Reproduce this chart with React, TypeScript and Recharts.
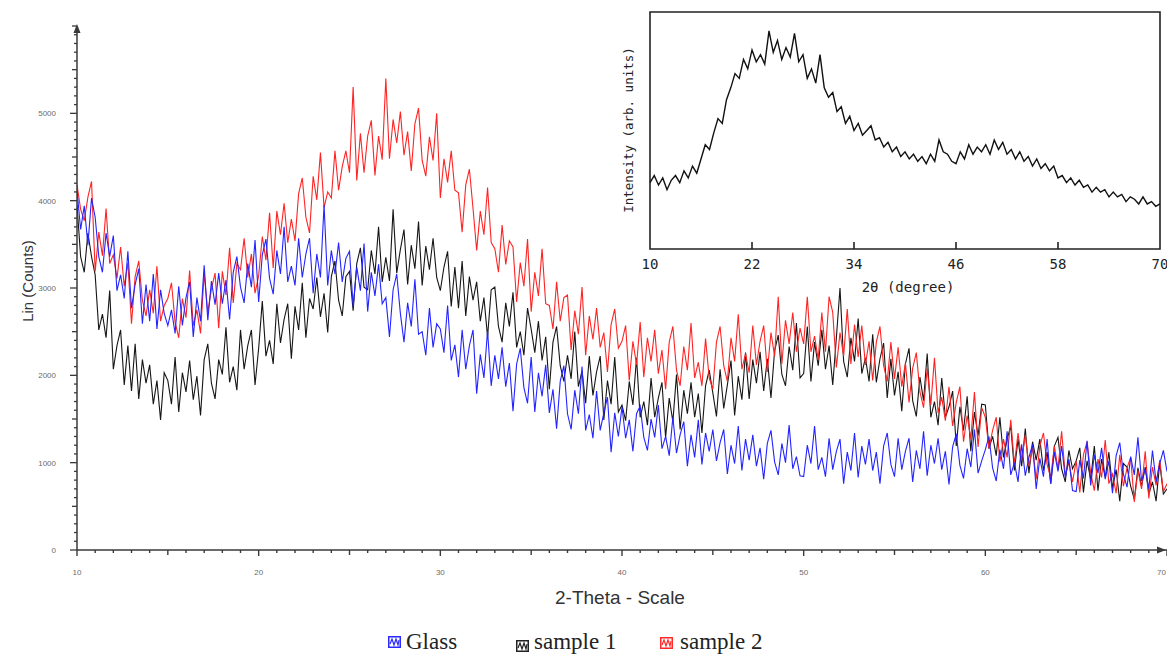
import React from "react";
import { LineChart, Line, XAxis, YAxis, ReferenceArea } from "recharts";

// ---------- main pattern: 2-theta from 10 to 70, step 0.2 ----------
const thetaStart = 10;
const thetaStep = 0.2;

const glass: number[] = [
  4120, 3670, 3940, 3490, 4030,
  3810, 3360, 3180, 3630, 3360,
  3600, 2970, 3150, 2880, 3420,
  2770, 3040, 3220, 2590, 3040,
  2620, 3160, 2530, 2980, 2710,
  2570, 2750, 2480, 3020, 2570,
  2890, 3070, 2440, 2890, 2620,
  3260, 2630, 3080, 2810, 3170,
  2820, 3090, 2640, 3180, 3360,
  3010, 2830, 3280, 3010, 3550,
  2840, 3380, 3560, 3110, 2930,
  3430, 3160, 3700, 3070, 3250,
  3030, 3570, 3120, 3390, 3570,
  2940, 3390, 3120, 3950, 3030,
  3430, 3160, 3520, 3070, 3340,
  3420, 2790, 3240, 2970, 3510,
  2730, 3180, 2910, 3270, 2820,
  2890, 2440, 2980, 3160, 2710,
  2380, 2830, 2560, 3100, 2470,
  2500, 2230, 2770, 2320, 2590,
  2530, 2260, 2800, 2170, 2350,
  1980, 2520, 2070, 2340, 2520,
  1790, 2240, 1970, 2510, 1880,
  2230, 1960, 2320, 1870, 2140,
  1590, 2130, 2310, 1860, 1680,
  2210, 1580, 2030, 1760, 2120,
  1570, 1840, 1390, 1930, 2110,
  1560, 1380, 1830, 1560, 2100,
  1370, 1550, 1280, 1820, 1370,
  1570, 1750, 1120, 1570, 1300,
  1640, 1280, 1490, 1130, 1560,
  1650, 1290, 1140, 1500, 1290,
  1660, 1160, 1300, 1080, 1520,
  1110, 1320, 1470, 960, 1320,
  1060, 1490, 980, 1340, 1130,
  1380, 1020, 1230, 1380, 870,
  1200, 990, 1420, 910, 1270,
  1030, 1320, 960, 1170, 810,
  1220, 1370, 1010, 860, 1220,
  1000, 1430, 930, 1070, 850,
  840, 1200, 990, 1420, 920,
  1060, 840, 1280, 920, 1130,
  1270, 760, 1120, 910, 1340,
  830, 1190, 980, 1270, 910,
  1120, 760, 1190, 1340, 980,
  840, 1280, 920, 1130, 1280,
  780, 1140, 930, 1360, 850,
  1200, 990, 1280, 920, 1130,
  750, 1180, 1330, 970, 820,
  1160, 950, 1380, 880, 1020,
  1150, 1300, 940, 790, 1150,
  930, 1360, 860, 1000, 780,
  1210, 850, 1060, 1210, 700,
  1050, 840, 1270, 760, 1120,
  900, 1190, 830, 1040, 680,
  670, 1030, 820, 1250, 740,
  1090, 880, 1170, 810, 1020,
  650, 1080, 1230, 870, 720,
  1070, 860, 1290, 790, 930,
  700, 1140, 780, 990, 1140,
  900,
];

const sample1: number[] = [
  3950, 3360, 3180, 3630, 3360,
  3150, 2520, 2700, 2430, 2970,
  2070, 2340, 2520, 1890, 2340,
  1820, 2360, 1730, 2180, 1910,
  2120, 1670, 1940, 1490, 2030,
  1940, 1670, 2210, 1580, 2030,
  1810, 2170, 1720, 1990, 1540,
  2180, 2360, 1910, 1730, 2180,
  2010, 2550, 1920, 2100, 1830,
  2520, 2070, 2340, 2520, 1890,
  2310, 2850, 2220, 2400, 2130,
  2820, 2370, 2640, 2820, 2190,
  2790, 2520, 3060, 2430, 2880,
  2760, 3120, 2670, 2940, 2490,
  3130, 3310, 2860, 2680, 3130,
  3190, 2740, 3280, 3460, 3010,
  2980, 3430, 3160, 3700, 3070,
  3350, 3080, 3900, 3170, 3440,
  3670, 3040, 3490, 3220, 3760,
  3030, 3480, 3210, 3570, 3120,
  2970, 3240, 3420, 2790, 3240,
  2770, 3310, 2680, 3130, 2860,
  3070, 2620, 2890, 2440, 2980,
  3010, 2560, 2380, 2830, 2560,
  2950, 2320, 2500, 2230, 2770,
  2530, 2260, 2620, 2170, 2440,
  1840, 2380, 2560, 2110, 1930,
  2230, 1960, 2500, 1870, 2050,
  1680, 2220, 1770, 2040, 2220,
  1490, 1940, 1670, 2210, 1580,
  1660, 1480, 1930, 1660, 2200,
  1520, 1700, 1430, 1970, 1520,
  1740, 1920, 1290, 1740, 1470,
  2010, 1380, 1830, 1560, 1920,
  1520, 1790, 1340, 1880, 2060,
  1800, 1530, 2070, 1620, 1890,
  2170, 1540, 1990, 1720, 2260,
  1730, 2180, 1910, 2270, 1820,
  2190, 1740, 2280, 2460, 2010,
  1880, 2330, 2060, 2600, 1970,
  2020, 2560, 1930, 2380, 2110,
  2520, 2070, 2340, 1890, 2430,
  3000, 2160, 1980, 2430, 2160,
  2650, 2020, 2200, 1930, 2470,
  1920, 2190, 2370, 1740, 2190,
  1770, 2040, 1590, 2130, 2310,
  1710, 1530, 1980, 1710, 2250,
  1520, 1700, 1430, 1970, 1520,
  1640, 1820, 1190, 1640, 1370,
  1760, 1130, 1580, 1310, 1670,
  1660, 1160, 1300, 1080, 1520,
  1060, 1270, 1420, 910, 1270,
  960, 1390, 880, 1240, 1030,
  1270, 910, 1120, 760, 1190,
  1290, 930, 780, 1140, 930,
  1020, 1170, 660, 1020, 810,
  1190, 680, 1040, 830, 1120,
  710, 920, 560, 990, 950,
  730, 580, 940, 730, 950,
  640, 780, 560, 1000, 640,
  700,
];

const sample2: number[] = [
  4180, 3900, 3770, 4040, 4220,
  3190, 3640, 3370, 3910, 3280,
  3380, 3110, 3470, 3020, 3290,
  2590, 3130, 3310, 2860, 2680,
  2980, 2710, 3250, 2620, 2800,
  2880, 3060, 2610, 2430, 2880,
  2660, 3200, 2570, 2750, 2480,
  3170, 2720, 2990, 3170, 2540,
  3190, 2920, 3460, 2830, 3280,
  3210, 3570, 3120, 3390, 2940,
  3140, 3590, 3320, 3860, 3230,
  3880, 3610, 3970, 3520, 3790,
  3540, 4080, 4260, 3810, 3630,
  4280, 4010, 4550, 3920, 4100,
  4030, 4570, 4120, 4390, 4570,
  4320, 5300, 4230, 4770, 4320,
  4740, 4920, 4290, 4740, 4470,
  5400, 4480, 4930, 4660, 5020,
  4520, 4790, 4340, 4880, 5060,
  4460, 4280, 4730, 4460, 5000,
  4030, 4480, 4210, 4570, 4120,
  4090, 3640, 4180, 4360, 3910,
  3430, 3880, 3610, 4150, 3520,
  3450, 3180, 3720, 3270, 3540,
  3470, 2840, 3290, 3020, 3560,
  2730, 3180, 2910, 3450, 2820,
  2800, 2530, 3070, 2620, 2890,
  2920, 2290, 2740, 2470, 3010,
  2230, 2680, 2410, 2770, 2320,
  2490, 2040, 2580, 2760, 2310,
  2390, 2570, 1940, 2390, 2120,
  2610, 1980, 2430, 2160, 2520,
  2020, 2290, 1840, 2380, 2560,
  2060, 1880, 2330, 2060, 2600,
  1970, 2150, 1880, 2420, 1970,
  1840, 2380, 2560, 2110, 1930,
  2430, 2160, 2700, 2070, 2250,
  2030, 2570, 2120, 2390, 2570,
  2040, 2490, 2220, 2900, 2130,
  2630, 2360, 2720, 2270, 2540,
  2360, 2900, 2270, 2450, 2180,
  2720, 2270, 2900, 2720, 2090,
  2490, 2220, 2760, 2130, 2580,
  2210, 2570, 2120, 2390, 1940,
  2380, 2560, 2110, 1930, 2380,
  1960, 2320, 1870, 2140, 1690,
  2080, 2260, 1810, 1630, 2080,
  1660, 2200, 1570, 1750, 1480,
  1870, 1420, 1690, 1870, 1240,
  1540, 1270, 1810, 1180, 1630,
  1520, 1160, 1370, 1520, 1010,
  1270, 1060, 1490, 980, 1340,
  1030, 1320, 960, 1170, 810,
  1190, 1340, 980, 830, 1190,
  930, 1360, 860, 1000, 780,
  1020, 660, 1090, 1240, 880,
  680, 1040, 830, 1260, 760,
  870, 650, 1090, 730, 940,
  1060, 550, 910, 700, 1130,
  590, 950, 740, 1030, 670,
  760,
];

const xMajorTicks = [10, 20, 30, 40, 50, 60, 70];
const yMajorTicks = [0, 1000, 2000, 3000, 4000, 5000];

// ---------- inset pattern: 2-theta from 10 to 70, step 0.5 ----------
const insetStart = 10;
const insetStep = 0.5;
const insetIntensity: number[] = [
  28, 31, 27, 30, 25, 29, 31, 28, 33, 30,
  35, 32, 38, 44, 42, 49, 55, 53, 63, 68,
  74, 72, 80, 76, 84, 79, 82, 78, 92, 83,
  88, 80, 85, 81, 91, 79, 82, 72, 76, 70,
  82, 68, 64, 66, 58, 60, 53, 56, 50, 53,
  48, 50, 52, 46, 47, 43, 45, 41, 43, 39,
  41, 38, 40, 37, 39, 36, 40, 37, 46, 41,
  40, 37, 36, 41, 38, 44, 40, 43, 41, 44,
  40, 46, 42, 45, 40, 42, 38, 41, 37, 39,
  35, 38, 34, 36, 33, 35, 30, 31, 28, 30,
  27, 29, 26, 27, 24, 26, 24, 25, 22, 24,
  22, 23, 20, 22, 21, 19, 22, 19, 20, 18,
  19,
];
const insetTicks = [10, 22, 34, 46, 58, 70];

const mainData = glass.map((g, i) => ({
  x: Math.round((thetaStart + i * thetaStep) * 10) / 10,
  glass: g,
  sample1: sample1[i],
  sample2: sample2[i],
}));

const insetData = insetIntensity.map((v, i) => ({
  x: insetStart + i * insetStep,
  v,
}));

const xTicks: number[] = [];
for (let t = 10; t <= 70; t += 1) xTicks.push(t);
const yTicks: number[] = [];
for (let t = 0; t <= 6000; t += 100) yTicks.push(t);

const AXIS = "#3a3a3a";
const TICKTXT = "#6a6a6a";

const XTick = (props: any) => {
  const { x, y, payload } = props;
  const v = payload.value;
  const major = xMajorTicks.includes(v);
  const mid = v % 5 === 0;
  const len = major ? 6 : mid ? 5 : 3;
  const last = v === 70;
  return (
    <g>
      <line x1={x} x2={x} y1={y} y2={y + len} stroke={AXIS} strokeWidth={1.4} />
      {major && (
        <text
          x={last ? x - 1 : x}
          y={y + 25}
          textAnchor={last ? "end" : "middle"}
          fontSize={8}
          fill={TICKTXT}
          fontFamily="Arial, Liberation Sans"
        >
          {v}
        </text>
      )}
    </g>
  );
};

const YTick = (props: any) => {
  const { x, y, payload } = props;
  const v = payload.value;
  const major = yMajorTicks.includes(v);
  const mid = v % 500 === 0;
  const len = major ? 7 : mid ? 5 : 3;
  return (
    <g>
      <line x1={x - len} x2={x} y1={y} y2={y} stroke={AXIS} strokeWidth={1.3} />
      {major && (
        <text x={x - 21} y={y + 3} textAnchor="end" fontSize={8} fill={TICKTXT} fontFamily="Arial, Liberation Sans">
          {v}
        </text>
      )}
    </g>
  );
};

const InsetTick = (props: any) => {
  const { x, y, payload } = props;
  const v = payload.value;
  const inner = v !== 10 && v !== 70;
  return (
    <g>
      {inner && <line x1={x} x2={x} y1={y} y2={y - 7} stroke="#222" strokeWidth={1.6} />}
      <text x={x} y={y + 20} textAnchor="middle" fontSize={14} fill="#222" fontFamily="DejaVu Sans Mono, Liberation Mono, monospace">
        {v}
      </text>
    </g>
  );
};

const LegendIcon = ({ color }: { color: string }) => (
  <svg width={13} height={12} style={{ display: "block" }}>
    <rect x={0.75} y={0.75} width={11.5} height={10.5} fill="none" stroke={color} strokeWidth={1.5} />
    <polyline points="2,8 4,3 6,9 8,3 10,9 11,4" fill="none" stroke={color} strokeWidth={1.2} />
  </svg>
);

const legendItems = [
  { name: "Glass", color: "#2a2aff", left: 388, top: 636, textLeft: 406 },
  { name: "sample 1", color: "#222", left: 516, top: 640, textLeft: 534 },
  { name: "sample 2", color: "#ff2a2a", left: 660, top: 637, textLeft: 680 },
];

export default function App() {
  return (
    <div style={{ position: "absolute", left: 0, top: 0, width: 1167, height: 654, background: "#fff", overflow: "hidden" }}>
      <div style={{ position: "absolute", left: 0, top: 0 }}>
        <LineChart width={1167} height={654} data={mainData} margin={{ top: 26, right: 0, bottom: 0, left: 0 }}>
          <XAxis
            dataKey="x"
            type="number"
            domain={[10, 70]}
            ticks={xTicks}
            interval={0}
            tick={<XTick />}
            tickLine={false}
            tickSize={0}
            tickMargin={0}
            height={104}
            axisLine={{ stroke: AXIS, strokeWidth: 1.5 }}
            allowDataOverflow
          />
          <YAxis
            type="number"
            domain={[0, 6000]}
            ticks={yTicks}
            interval={0}
            tick={<YTick />}
            tickLine={false}
            tickSize={0}
            tickMargin={0}
            width={77}
            axisLine={{ stroke: AXIS, strokeWidth: 1.5 }}
            allowDataOverflow
          />
          <Line dataKey="sample1" stroke="#161616" strokeWidth={1.1} dot={false} isAnimationActive={false} type="linear" />
          <Line dataKey="sample2" stroke="#ff2424" strokeWidth={1.1} dot={false} isAnimationActive={false} type="linear" />
          <Line dataKey="glass" stroke="#2424ff" strokeWidth={1.1} dot={false} isAnimationActive={false} type="linear" />
        </LineChart>
      </div>

      {/* axis arrows */}
      <svg width={1167} height={654} style={{ position: "absolute", left: 0, top: 0, pointerEvents: "none" }}>
        <polygon points="77,24 73.5,33 80.5,33" fill={AXIS} />
        <polygon points="1166,550 1157,546.5 1157,553.5" fill={AXIS} />
      </svg>

      {/* axis titles */}
      <div
        style={{
          position: "absolute",
          left: 27,
          top: 281,
          transform: "translate(-50%, -50%) rotate(-90deg)",
          fontFamily: "Arial, Liberation Sans, sans-serif",
          fontSize: 15,
          color: "#333",
          whiteSpace: "nowrap",
        }}
      >
        Lin (Counts)
      </div>
      <div
        style={{
          position: "absolute",
          left: 620,
          top: 598,
          transform: "translate(-50%, -50%)",
          fontFamily: "Arial, Liberation Sans, sans-serif",
          fontSize: 19,
          color: "#333",
          whiteSpace: "nowrap",
        }}
      >
        2-Theta - Scale
      </div>

      {/* legend */}
      {legendItems.map((it) => (
        <div key={it.name} style={{ position: "absolute", left: it.left, top: it.top }}>
          <LegendIcon color={it.color} />
        </div>
      ))}
      {legendItems.map((it) => (
        <div
          key={it.name + "t"}
          style={{
            position: "absolute",
            left: it.textLeft,
            top: 628,
            fontFamily: "Liberation Serif, Times New Roman, serif",
            fontSize: 23,
            lineHeight: "28px",
            color: "#222",
            whiteSpace: "nowrap",
          }}
        >
          {it.name}
        </div>
      ))}

      {/* inset */}
      <div style={{ position: "absolute", left: 600, top: 0 }}>
        <LineChart width={567} height={300} data={insetData} margin={{ top: 12, right: 7, bottom: 0, left: 50 }}>
          <XAxis
            dataKey="x"
            type="number"
            domain={[10, 70]}
            ticks={insetTicks}
            interval={0}
            tick={<InsetTick />}
            tickLine={false}
            tickSize={0}
            tickMargin={0}
            axisLine={false}
            height={51}
          />
          <YAxis type="number" domain={[0, 100]} hide />
          <ReferenceArea x1={10} x2={70} y1={0} y2={100} fill="#fff" fillOpacity={1} stroke="#222" strokeWidth={1.6} />
          <Line dataKey="v" stroke="#111" strokeWidth={1.4} dot={false} isAnimationActive={false} type="linear" />
        </LineChart>
      </div>
      <div
        style={{
          position: "absolute",
          left: 628,
          top: 130,
          transform: "translate(-50%, -50%) rotate(-90deg)",
          fontFamily: "DejaVu Sans Mono, Liberation Mono, monospace",
          fontSize: 12.5,
          color: "#222",
          whiteSpace: "nowrap",
        }}
      >
        Intensity (arb. units)
      </div>
      <div
        style={{
          position: "absolute",
          left: 908,
          top: 287,
          transform: "translate(-50%, -50%)",
          fontFamily: "DejaVu Sans Mono, Liberation Mono, monospace",
          fontSize: 14,
          color: "#222",
          whiteSpace: "nowrap",
        }}
      >
        2θ (degree)
      </div>
    </div>
  );
}
